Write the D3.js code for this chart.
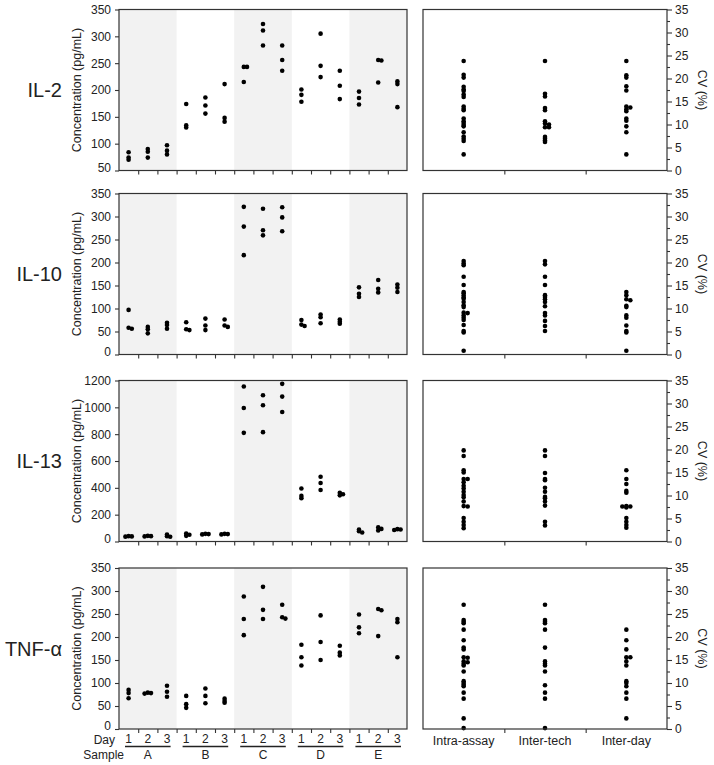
<!DOCTYPE html>
<html><head><meta charset="utf-8">
<script src="https://cdn.jsdelivr.net/npm/d3@7"></script>
<style>
body{margin:0;background:#fff}
svg{display:block}
text{font-family:"Liberation Sans",Arial,sans-serif;fill:#222}
</style>
</head><body>
<svg id="chart" width="714" height="765"></svg>
<script>
// ---------------- DATA ----------------
const samples = ["A","B","C","D","E"];
const days = ["1","2","3"];
const cytokines = ["IL-2","IL-10","IL-13","TNF-α"];
const concDomains = [[50,350],[0,350],[0,1200],[0,350]];
const concTicks = [
  [50,100,150,200,250,300,350],
  [0,50,100,150,200,250,300,350],
  [0,200,400,600,800,1000,1200],
  [0,50,100,150,200,250,300,350]
];
// concentration triplicates, order A1,A2,A3,B1,...,E3
const il2Conc = [[84,74,70],[90,85,74],[97,87,80],[174,134,130],[186,171,156],[211,148,141],
  [243,243,215],[323,311,283],[283,256,236],[201,191,178],[305,245,224],[236,208,183],
  [197,185,173],[256,255,214],[216,211,168]];
const il10Conc = [[97,58,56],[60,55,46],[69,64,56],[70,55,53],[78,63,53],[76,63,60],
  [321,278,216],[317,270,259],[320,298,268],[75,65,62],[87,81,68],[76,71,67],
  [146,132,125],[162,143,135],[152,145,136]];
const il13Conc = [[40,38,36],[42,40,38],[52,40,35],[60,50,42],[57,55,53],[57,55,53],
  [1155,995,810],[1090,1015,815],[1175,1080,965],[395,340,322],[483,436,384],[363,352,344],
  [89,77,67],[105,94,82],[92,89,86]];
const tnfConc = [[85,78,67],[79,78,77],[94,81,70],[72,54,46],[88,72,56],[66,61,57],
  [288,239,204],[309,259,239],[270,243,240],[183,156,138],[247,189,150],[181,166,160],
  [249,221,208],[261,258,202],[239,232,156]];

const cvCategories = ["Intra-assay","Inter-tech","Inter-day"];
const cvTicks = [0,5,10,15,20,25,30,35];
const cvMinorTicks = [2.5,7.5,12.5,17.5,22.5,27.5,32.5];

const il2Intra = [23.8,20.8,20.2,18.2,17.6,17.3,16.5,16.0,13.9,13.4,13.1,11.3,10.7,10.3,9.9,9.6,8.3,7.4,6.9,6.4,3.5];
const il2InterTech = [23.8,16.7,16.1,13.6,13.1,10.7,10.2,10.0,9.4,9.4,7.3,6.9,6.5,6.2];
const il2InterDay = [23.8,20.7,20.2,18.3,17.4,13.9,13.7,13.3,12.9,11.3,10.8,9.6,8.3,3.5];

const il10Intra = [20.3,19.8,19.4,16.9,15.1,13.6,13.3,12.8,12.4,12.1,11.4,10.7,10.3,9.1,9.0,8.5,8.0,7.5,6.4,5.1,4.8,0.8];
const il10InterTech = [20.3,19.6,16.9,15.1,12.9,12.5,12.0,11.4,10.5,9.0,8.5,7.3,6.2,5.1];
const il10InterDay = [13.6,12.9,12.0,11.8,10.6,10.3,8.5,8.0,6.3,5.1,4.8,0.8];

const il13Intra = [19.8,18.6,15.5,15.0,13.6,13.6,12.9,12.1,11.5,10.8,10.1,9.6,8.7,7.7,7.6,5.1,4.3,3.6,2.9];
const il13InterTech = [19.8,18.6,14.9,13.6,13.3,11.7,10.8,9.7,9.4,8.7,7.8,4.3,3.5];
const il13InterDay = [15.5,13.6,12.5,11.0,10.6,7.7,7.6,7.6,7.4,5.1,4.3,3.6,3.0];

const tnfIntra = [27.0,23.7,23.3,23.0,21.6,19.3,17.7,17.3,15.6,15.5,14.7,14.5,14.2,13.8,12.5,10.4,10.0,9.6,9.3,7.9,6.6,2.3,0.2];
const tnfInterTech = [27.0,23.7,23.3,23.0,21.6,17.7,14.7,14.2,13.8,12.5,9.5,7.9,6.6,0.2];
const tnfInterDay = [21.6,19.3,17.3,15.6,15.6,14.7,13.8,10.4,10.0,9.3,7.9,6.6,2.3];

const concSets = [il2Conc, il10Conc, il13Conc, tnfConc];
const cvSets = [
  [il2Intra, il2InterTech, il2InterDay],
  [il10Intra, il10InterTech, il10InterDay],
  [il13Intra, il13InterTech, il13InterDay],
  [tnfIntra, tnfInterTech, tnfInterDay]
];

// ---------------- LAYOUT ----------------
const svg = d3.select("#chart");
const LX0 = 119, LX1 = 407, RX0 = 423, RX1 = 667;
const tops = [9.5, 193.5, 380.5, 568];
const PH = 161;
const axisColor = "#333";
const dotR = 2.3;

function dodge(vals, yScale, cx, minDy, step) {
  const placed = [];
  return vals.map(v => {
    const py = yScale(v);
    const offs = [0, step, -step, 2*step, -2*step, 3*step, -3*step];
    for (const o of offs) {
      const px = cx + o;
      if (placed.every(p => Math.abs(p.y - py) >= minDy || Math.abs(p.x - px) >= step - 0.01)) {
        placed.push({x: px, y: py});
        return {x: px, y: py};
      }
    }
    placed.push({x: cx, y: py});
    return {x: cx, y: py};
  });
}

function styleAxis(g) {
  g.selectAll("path.domain").remove();
  g.selectAll("line").attr("stroke", axisColor).attr("stroke-width", 1.1);
  g.selectAll("text").attr("fill", "#222").style("font-size", "12px")
    .attr("font-family", '"Liberation Sans",Arial,sans-serif');
}

const cellIdx = d3.range(15);
const xCells = d3.scaleBand().domain(cellIdx).range([LX0, LX1]).padding(0);
const xBound = d3.scaleLinear().domain([0, 15]).range([LX0, LX1]);
const xCV = d3.scaleBand().domain(cvCategories).range([RX0, RX1]).padding(0);
const xCVBound = d3.scaleLinear().domain([0, 3]).range([RX0, RX1]);

cytokines.forEach((name, i) => {
  const top = tops[i], bot = top + PH;
  const g = svg.append("g");
  const y = d3.scaleLinear().domain(concDomains[i]).range([bot, top]);

  // shading for samples A, C, E
  samples.forEach((s, si) => {
    if (si % 2 === 0) {
      g.append("rect")
        .attr("x", xCells(si*3)).attr("y", top)
        .attr("width", xCells.bandwidth()*3).attr("height", PH)
        .attr("fill", "#f2f2f2");
    }
  });

  // points
  concSets[i].forEach((trip, ci) => {
    const cx = xCells(ci) + xCells.bandwidth()/2;
    dodge(trip, y, cx, 1.6, 3.2).forEach(p => {
      g.append("circle").attr("cx", p.x).attr("cy", p.y).attr("r", dotR).attr("fill", "#000");
    });
  });

  // frame
  g.append("rect").attr("x", LX0).attr("y", top).attr("width", LX1-LX0).attr("height", PH)
    .attr("fill", "none").attr("stroke", axisColor).attr("stroke-width", 1.2);

  // left axis
  const ay = g.append("g").attr("transform", `translate(${LX0},0)`)
    .call(d3.axisLeft(y).tickValues(concTicks[i]).tickFormat(d3.format("d")).tickSize(4).tickPadding(4));
  styleAxis(ay);
  // lowest label sits slightly above the axis corner
  ay.selectAll(".tick text").filter(d => d === concDomains[i][0]).attr("y", -3);

  // bottom boundary ticks
  const ab = g.append("g").attr("transform", `translate(0,${bot})`)
    .call(d3.axisBottom(xBound).tickValues(d3.range(1, 15)).tickSize(4).tickFormat(""));
  styleAxis(ab);

  // cytokine label
  g.append("text").attr("x", 62).attr("y", (top+bot)/2 + 7)
    .attr("text-anchor", "end").style("font-size", "20px").text(name);

  // y title
  g.append("text")
    .attr("transform", `translate(81,${(top+bot)/2}) rotate(-90)`)
    .attr("text-anchor", "middle").style("font-size", "12.5px")
    .text("Concentration (pg/mL)");

  // ---------- right CV panel ----------
  const yc = d3.scaleLinear().domain([0, 35]).range([bot, top]);
  cvCategories.forEach((cat, k) => {
    const cx = xCV(cat) + xCV.bandwidth()/2;
    dodge(cvSets[i][k], yc, cx, 1.2, 4).forEach(p => {
      g.append("circle").attr("cx", p.x).attr("cy", p.y).attr("r", dotR).attr("fill", "#000");
    });
  });
  g.append("rect").attr("x", RX0).attr("y", top).attr("width", RX1-RX0).attr("height", PH)
    .attr("fill", "none").attr("stroke", axisColor).attr("stroke-width", 1.2);

  const ar = g.append("g").attr("transform", `translate(${RX1},0)`)
    .call(d3.axisRight(yc).tickValues(cvTicks).tickSize(5).tickPadding(3));
  styleAxis(ar);
  const arm = g.append("g").attr("transform", `translate(${RX1},0)`)
    .call(d3.axisRight(yc).tickValues(cvMinorTicks).tickSize(3).tickFormat(""));
  styleAxis(arm);

  const arb = g.append("g").attr("transform", `translate(0,${bot})`)
    .call(d3.axisBottom(xCVBound).tickValues([1, 2]).tickSize(4).tickFormat(""));
  styleAxis(arb);

  g.append("text")
    .attr("transform", `translate(698,${(top+bot)/2}) rotate(90)`)
    .attr("text-anchor", "middle").style("font-size", "12.5px")
    .text("CV (%)");

  // bottom labels on last row
  if (i === cytokines.length - 1) {
    g.append("text").attr("x", 115).attr("y", 744).attr("text-anchor", "end")
      .style("font-size", "12px").text("Day");
    g.append("text").attr("x", 124).attr("y", 759).attr("text-anchor", "end")
      .style("font-size", "12px").text("Sample");
    cellIdx.forEach(ci => {
      g.append("text").attr("x", xCells(ci) + xCells.bandwidth()/2).attr("y", 743)
        .attr("text-anchor", "middle").style("font-size", "12px").text(days[ci % 3]);
    });
    samples.forEach((s, si) => {
      const gx0 = xCells(si*3), gx1 = gx0 + xCells.bandwidth()*3;
      g.append("line").attr("x1", gx0 + 6).attr("x2", gx1 - 6)
        .attr("y1", 746.5).attr("y2", 746.5).attr("stroke", "#222").attr("stroke-width", 1.3);
      g.append("text").attr("x", (gx0+gx1)/2).attr("y", 758.5)
        .attr("text-anchor", "middle").style("font-size", "12px").text(s);
    });
    cvCategories.forEach(cat => {
      g.append("text").attr("x", xCV(cat) + xCV.bandwidth()/2).attr("y", 745)
        .attr("text-anchor", "middle").style("font-size", "12.5px").text(cat);
    });
  }
});
</script>
</body></html>
